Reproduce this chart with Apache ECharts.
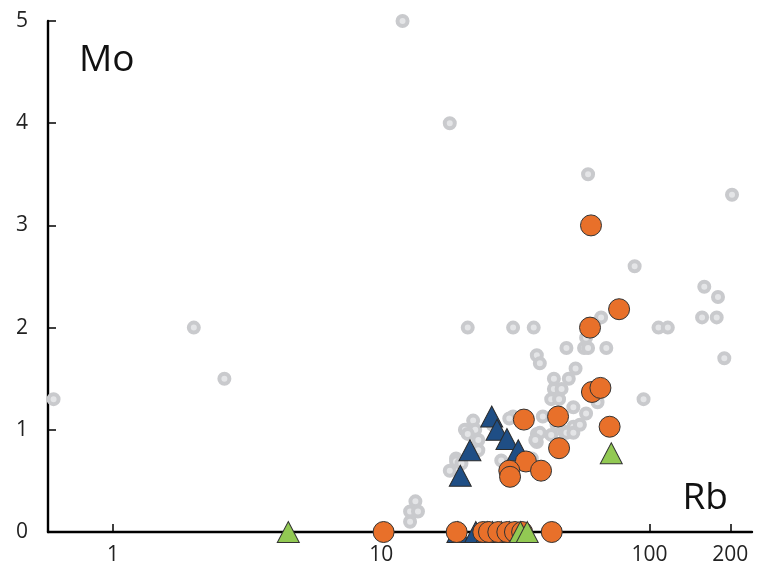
<!DOCTYPE html>
<html>
<head>
<meta charset="utf-8">
<title>Mo vs Rb</title>
<script src="https://cdn.jsdelivr.net/npm/echarts@6/dist/echarts.min.js"></script>
<style>
  html, body { margin: 0; padding: 0; background: #fff; }
  #chart { width: 760px; height: 577px; }
</style>
</head>
<body>
<div id="chart"></div>
<script>
// Rb (x, log scale) vs Mo (y) pairs for each sample group
const background = [
  [0.6, 1.3], [2, 2.0], [2.6, 1.5], [12, 5.0], [18, 4.0], [59, 3.5], [203, 3.3],
  [88, 2.6], [160, 2.4], [180, 2.3], [157, 2.1], [178, 2.1], [108, 2.0], [117, 2.0],
  [190, 1.7], [95, 1.3], [21, 2.0], [31, 2.0], [37, 2.0], [66, 2.1], [58, 1.9],
  [49, 1.8], [57, 1.8], [59, 1.8], [69, 1.8], [38, 1.73], [39, 1.65], [53, 1.6],
  [50, 1.5], [44, 1.5], [44, 1.4], [47, 1.4], [43, 1.3], [46, 1.3], [64, 1.27],
  [52, 1.22], [58, 1.16], [40, 1.13], [31, 1.13], [52, 1.03], [38, 0.96], [43, 0.95],
  [48, 0.98], [49, 0.97], [52, 0.97], [22, 1.09], [20.5, 1.0], [22.4, 1.0], [23, 0.9],
  [23, 0.8], [39, 0.97], [38, 0.88], [36.4, 0.72], [19, 0.72], [18, 0.6], [19, 0.69],
  [19.9, 0.67], [21, 0.96], [28, 0.7], [37.5, 0.9], [13.4, 0.3], [12.8, 0.2],
  [13.7, 0.2], [12.8, 0.1], [30, 1.11], [26, 1.05], [55, 1.05], [45, 1.05]
];
const blueGroup = [
  [25.8, 1.13], [27, 1.0], [29.4, 0.91], [32.4, 0.8], [21.4, 0.8], [19.7, 0.55],
  [19.3, 0], [22.5, 0], [24.8, 0], [26, 0], [28, 0], [30, 0]
];
const orangeGroup = [
  [10.2, 0], [60.5, 3.0], [77, 2.18], [60, 2.0], [61, 1.37], [65.6, 1.41], [34, 1.1],
  [45.6, 1.13], [71, 1.03], [46, 0.82], [34.6, 0.69], [39.4, 0.6], [30, 0.6],
  [30.2, 0.54], [19.1, 0], [24, 0], [25.2, 0], [27.3, 0], [29.5, 0], [31.5, 0],
  [33.5, 0], [43.2, 0]
];
const greenGroup = [
  [4.5, 0], [72, 0.77], [33, 0], [35, 0]
];
const xTicks = [1, 10, 100, 200];

const FONT = '"Open Sans", "DejaVu Sans", sans-serif';
const chart = echarts.init(document.getElementById('chart'), null, { renderer: 'canvas' });

chart.setOption({
  animation: false,
  backgroundColor: '#ffffff',
  grid: { left: 48, right: 8, top: 21, bottom: 45, containLabel: false, outerBoundsMode: 'none' },
  xAxis: {
    type: 'log',
    logBase: 10,
    min: 0.572,
    max: 241,
    axisLine: { show: true, lineStyle: { color: '#000', width: 2.4 } },
    axisTick: { show: true, inside: true, length: 8, customValues: xTicks, lineStyle: { color: '#000', width: 1.5 } },
    axisLabel: {
      show: true, customValues: xTicks, margin: 13,
      color: '#222', fontSize: 21, fontFamily: FONT
    },
    splitLine: { show: false },
    minorTick: { show: false }
  },
  yAxis: {
    type: 'value',
    min: 0,
    max: 5,
    interval: 1,
    axisLine: { show: true, onZero: false, lineStyle: { color: '#000', width: 2.4 } },
    axisTick: { show: true, inside: true, length: 8, lineStyle: { color: '#000', width: 1.5 } },
    axisLabel: { margin: 20, color: '#222', fontSize: 21, fontFamily: FONT },
    splitLine: { show: false }
  },
  graphic: [
    { type: 'text', left: 79, top: 42, style: { text: 'Mo', font: '37px ' + FONT, fill: '#111' } },
    { type: 'text', right: 32, top: 480, style: { text: 'Rb', font: '37px ' + FONT, fill: '#111' } }
  ],
  series: [
    {
      name: 'background', type: 'scatter', data: background, symbol: 'circle', symbolSize: 10,
      itemStyle: { color: '#e4e5e7', borderColor: '#c9cacd', borderWidth: 4, opacity: 1 },
      emphasis: { disabled: true }, z: 2
    },
    {
      name: 'blue', type: 'scatter', data: blueGroup, symbol: 'triangle', symbolSize: [22, 21],
      itemStyle: { color: '#1f4e85', borderColor: '#2b2b2b', borderWidth: 1, opacity: 1 },
      emphasis: { disabled: true }, z: 3
    },
    {
      name: 'orange', type: 'scatter', data: orangeGroup, symbol: 'circle', symbolSize: 21,
      itemStyle: { color: '#e8702a', borderColor: '#333333', borderWidth: 1, opacity: 1 },
      emphasis: { disabled: true }, z: 4
    },
    {
      name: 'green', type: 'scatter', data: greenGroup, symbol: 'triangle', symbolSize: [22, 21],
      itemStyle: { color: '#92c953', borderColor: '#333333', borderWidth: 1, opacity: 1 },
      emphasis: { disabled: true }, z: 5
    }
  ]
});
</script>
</body>
</html>
